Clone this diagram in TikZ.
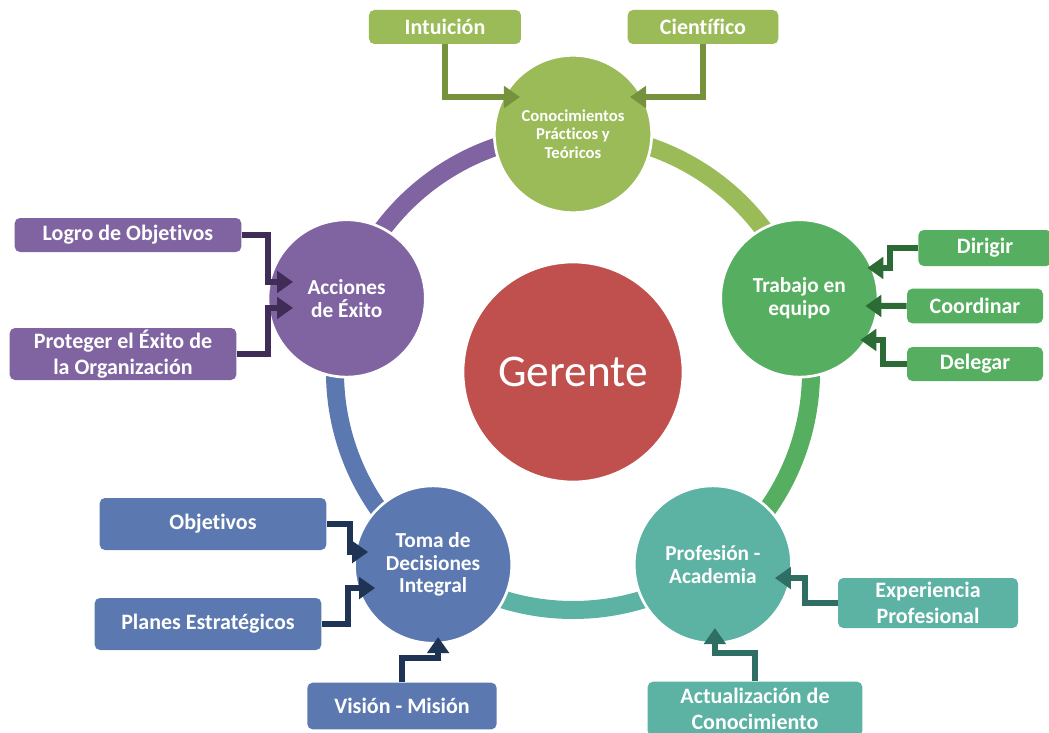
\documentclass[tikz,border=0pt]{standalone}
\usepackage{fontspec}
\setmainfont{Carlito}[Ligatures=NoCommon]
\usetikzlibrary{arrows.meta,calc}

\definecolor{gOlive}{HTML}{9BBB59}
\definecolor{gGreen}{HTML}{56AF60}
\definecolor{gTeal}{HTML}{5CB2A3}
\definecolor{gBlue}{HTML}{5B79B0}
\definecolor{gPurple}{HTML}{8064A2}
\definecolor{gRed}{HTML}{C0504D}
\definecolor{dOlive}{HTML}{76923C}
\definecolor{dGreen}{HTML}{2C6B35}
\definecolor{dTeal}{HTML}{2F6E63}
\definecolor{dBlue}{HTML}{1F3354}
\definecolor{dPurple}{HTML}{3F2D57}

\begin{document}
\begin{tikzpicture}[
  x=0.75pt, y=0.75pt,
  hub/.style={circle, draw=white, line width=2pt, minimum size=118pt, inner sep=0pt,
    text=white, align=center, font=\fontsize{16}{17}\selectfont\bfseries},
  tag/.style={rectangle, rounded corners=4pt, inner sep=0pt, text=white, align=center,
    font=\fontsize{16.5}{19}\selectfont\bfseries},
  link/.style={line width=4.5pt, -{Triangle[width=16pt,length=12pt]}},
  ring/.style={line width=13.5pt}
]
  \useasboundingbox (-573,-360) rectangle (476,372);

  % ring behind the circles
  \foreach \a/\c in {90/gOlive, 18/gGreen, -54/gTeal, -126/gBlue, 162/gPurple}
    \draw[ring, \c] (\a:238) arc[start angle=\a, end angle=\a-72, radius=238];

  % circles
  \node[hub, fill=gRed, minimum size=165pt, font=\fontsize{34}{36}\selectfont] (ger) at (0,0) {Gerente};
  \node[hub, fill=gOlive, font=\fontsize{12.5}{14}\selectfont\bfseries] (cono) at (90:238) {Conocimientos\\Prácticos y\\Teóricos};
  \node[hub, fill=gGreen] (trab) at (18:238) {Trabajo en\\equipo};
  \node[hub, fill=gTeal] (prof) at (-54:238) {Profesión -\\Academia};
  \node[hub, fill=gBlue] (toma) at (-126:238) {Toma de\\Decisiones\\Integral};
  \node[hub, fill=gPurple] (acc) at (162:238) {Acciones\\de Éxito};

  % boxes
  \node[tag, fill=gOlive, minimum width=114pt, minimum height=25.5pt] (intu) at (-128,345) {Intuición};
  \node[tag, fill=gOlive, minimum width=113pt, minimum height=25.5pt] (cien) at (130,345) {Científico};
  \node[tag, fill=gGreen, minimum width=100pt, minimum height=27pt] (dir) at (412,124) {Dirigir};
  \node[tag, fill=gGreen, minimum width=102pt, minimum height=26pt] (coord) at (402,66) {Coordinar};
  \node[tag, fill=gGreen, minimum width=102pt, minimum height=25.5pt] (deleg) at (402,8) {Delegar};
  \node[tag, fill=gPurple, minimum width=170pt, minimum height=25.5pt] (logro) at (-445,137) {Logro de Objetivos};
  \node[tag, fill=gPurple, minimum width=170pt, minimum height=39pt] (prot) at (-450,18) {Proteger el Éxito de\\la Organización};
  \node[tag, fill=gBlue, minimum width=170pt, minimum height=39pt] (obj) at (-360,-152) {Objetivos};
  \node[tag, fill=gBlue, minimum width=170pt, minimum height=39pt] (plan) at (-365,-252) {Planes Estratégicos};
  \node[tag, fill=gBlue, minimum width=142pt, minimum height=35pt] (vis) at (-171,-334) {Visión - Misión};
  \node[tag, fill=gTeal, minimum width=135pt, minimum height=37.5pt] (exp) at (355,-231) {Experiencia\\Profesional};
  \node[tag, fill=gTeal, minimum width=161pt, minimum height=41pt] (act) at (182,-337) {Actualización de\\Conocimiento};

  % elbow arrows
  \draw[link, dOlive] (intu.south) |- ($(cono)+(-53,37)$);
  \draw[link, dOlive] (cien.south) |- ($(cono)+(57,37)$);
  \draw[link, dGreen] (dir.west) -- ++(-28,0) |- ($(trab)+(68,30.5)$);
  \draw[link, dGreen] (coord.west) -- ($(trab)+(66,-7.5)$);
  \draw[link, dGreen] (deleg.west) -- ++(-24,0) |- ($(trab)+(61,-41.5)$);
  \draw[link, dPurple] (logro.east) -- ++(26,0) |- ($(acc)+(-53.6,16.5)$);
  \draw[link, dPurple] (prot.east) -- ++(31,0) |- ($(acc)+(-53.6,-9.5)$);
  \draw[link, dBlue] (obj.east) -- ++(23,0) |- ($(toma)+(-65,12.5)$);
  \draw[link, dBlue] (plan.east) -- ++(26,0) |- ($(toma)+(-58,-23.5)$);
  \draw[link, dBlue] (vis.north) -- ++(0,24) -| ($(toma)+(5,-72.5)$);
  \draw[link, dTeal] (exp.west) -- ++(-33,0) |- ($(prof)+(62,-13.5)$);
  \draw[link, dTeal] (act.north) -- ++(0,28) -| ($(prof)+(2,-63.5)$);
\end{tikzpicture}
\end{document}
